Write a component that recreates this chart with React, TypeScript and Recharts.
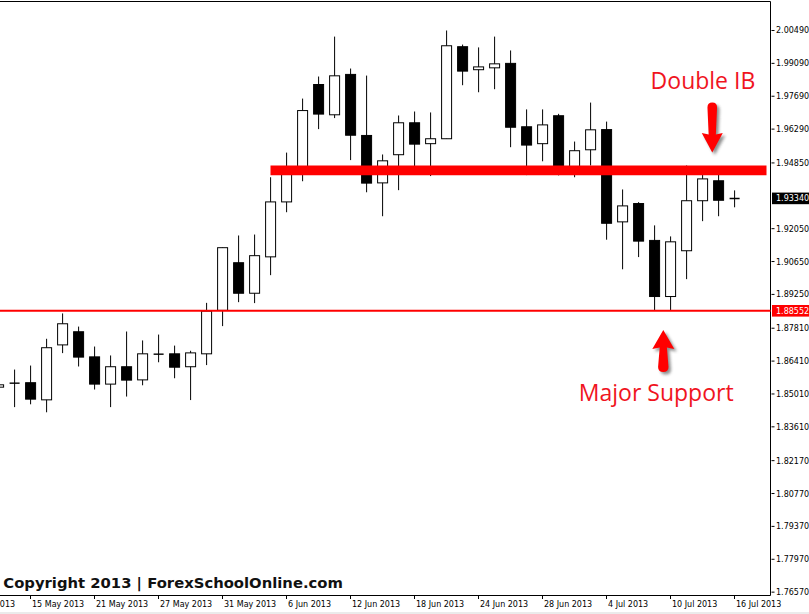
import React from "react";
import {
  ComposedChart,
  Bar,
  XAxis,
  YAxis,
  ReferenceLine,
  ReferenceArea,
  ReferenceDot,
} from "recharts";

// GBP/USD-style daily sessions (the first two sit left of the visible window)
const sessions = [
  "9 May 2013", "10 May 2013", "13 May 2013", "14 May 2013", "15 May 2013", "16 May 2013", "17 May 2013",
  "20 May 2013", "21 May 2013", "22 May 2013", "23 May 2013", "24 May 2013",
  "27 May 2013", "28 May 2013", "29 May 2013", "30 May 2013", "31 May 2013",
  "3 Jun 2013", "4 Jun 2013", "5 Jun 2013", "6 Jun 2013", "7 Jun 2013",
  "10 Jun 2013", "11 Jun 2013", "12 Jun 2013", "13 Jun 2013", "14 Jun 2013",
  "17 Jun 2013", "18 Jun 2013", "19 Jun 2013", "20 Jun 2013", "21 Jun 2013",
  "24 Jun 2013", "25 Jun 2013", "26 Jun 2013", "27 Jun 2013", "28 Jun 2013",
  "1 Jul 2013", "2 Jul 2013", "3 Jul 2013", "4 Jul 2013", "5 Jul 2013",
  "8 Jul 2013", "9 Jul 2013", "10 Jul 2013", "11 Jul 2013", "12 Jul 2013",
  "15 Jul 2013", "16 Jul 2013",
];

// OHLC, one entry per session starting 13 May 2013
const open = [
  1.8530, 1.8548, 1.8549, 1.8476, 1.8710, 1.8766, 1.8659, 1.8543, 1.8617, 1.8561,
  1.8672, 1.8672, 1.8617, 1.8672, 1.8857, 1.9060, 1.8930, 1.9085, 1.9319, 1.9439,
  1.9819, 1.9690, 1.9862, 1.9602, 1.9400, 1.9520, 1.9656, 1.9567, 1.9588, 1.9980,
  1.9882, 1.9890, 1.9909, 1.9639, 1.9567, 1.9686, 1.9441, 1.9541, 1.9627, 1.9234,
  1.9312, 1.9155, 1.8916, 1.9111, 1.9324, 1.9409, 1.9333,
];
const high = [
  1.8548, 1.8605, 1.8622, 1.8736, 1.8844, 1.8788, 1.8703, 1.8665, 1.8767, 1.8729,
  1.8754, 1.8707, 1.8685, 1.8889, 1.9125, 1.9176, 1.9180, 1.9424, 1.9529, 1.9759,
  1.9853, 2.0023, 1.9887, 1.9857, 1.9521, 1.9687, 1.9704, 1.9700, 2.0049, 1.9989,
  1.9977, 2.0023, 1.9964, 1.9713, 1.9713, 1.9694, 1.9576, 1.9742, 1.9661, 1.9372,
  1.9318, 1.9219, 1.9172, 1.9474, 1.9461, 1.9452, 1.9368,
];
const low = [
  1.8522, 1.8445, 1.8457, 1.8423, 1.8675, 1.8618, 1.8520, 1.8445, 1.8490, 1.8538,
  1.8636, 1.8568, 1.8475, 1.8624, 1.8790, 1.8892, 1.8888, 1.9007, 1.9275, 1.9407,
  1.9629, 1.9676, 1.9497, 1.9360, 1.9258, 1.9369, 1.9441, 1.9429, 1.9587, 1.9816,
  1.9786, 1.9799, 1.9552, 1.9433, 1.9492, 1.9432, 1.9424, 1.9474, 1.9158, 1.9032,
  1.9084, 1.8855, 1.8855, 1.8990, 1.9237, 1.9258, 1.9296,
];
const close = [
  1.8540, 1.8546, 1.8479, 1.8698, 1.8800, 1.8658, 1.8543, 1.8617, 1.8560, 1.8672,
  1.8669, 1.8615, 1.8676, 1.8854, 1.9124, 1.8930, 1.9090, 1.9319, 1.9436, 1.9708,
  1.9693, 1.9856, 1.9603, 1.9399, 1.9494, 1.9656, 1.9565, 1.9588, 1.9984, 1.9876,
  1.9894, 1.9907, 1.9637, 1.9561, 1.9647, 1.9440, 1.9537, 1.9626, 1.9228, 1.9302,
  1.9152, 1.8916, 1.9149, 1.9324, 1.9417, 1.9326, 1.9334,
];

// price grid labels (the one under the bid box is left out)
const priceTicks = [
  2.0049, 1.9909, 1.9769, 1.9629, 1.9485, 1.9205, 1.9065, 1.8925,
  1.8781, 1.8641, 1.8501, 1.8361, 1.8217, 1.8077, 1.7937, 1.7797, 1.7657,
];
const dateTicks = [
  "9 May 2013", "15 May 2013", "21 May 2013", "27 May 2013", "31 May 2013", "6 Jun 2013",
  "12 Jun 2013", "18 Jun 2013", "24 Jun 2013", "28 Jun 2013", "4 Jul 2013", "10 Jul 2013",
  "16 Jul 2013",
];

const lastPrice = 1.9334;
const supportLevel = 1.88552;
const resistanceZone = [1.9433, 1.9474];
const resistanceStart = "5 Jun 2013";

const FIRST_BAR = sessions.indexOf("13 May 2013");
const bars = open.map((o, j) => ({
  s: FIRST_BAR + j,
  date: sessions[FIRST_BAR + j],
  open: o,
  high: high[j],
  low: low[j],
  close: close[j],
}));
const dateTickIdx = dateTicks.map((d) => sessions.indexOf(d));

const Y_MIN = 1.76427;
const Y_MAX = 2.01725;
const X_MIN = -1.65625;
const X_MAX = sessions.length + 1.25;

const AXIS_FONT = "'DejaVu Sans', Tahoma, sans-serif";
const NOTE_FONT = "'Open Sans', 'Noto Sans', sans-serif";
const NOTE_RED = "#f0141e";

function Candle(props: any) {
  const { x, y, width, height, payload } = props;
  if (!payload || height == null) return null;
  const { open: o, high: h, low: l, close: c } = payload;
  const cx = x + width / 2;
  const k = height / (h - l);
  const yOf = (v: number) => y + (h - v) * k;
  const top = yOf(Math.max(o, c));
  const bottom = yOf(Math.min(o, c));
  const bull = c >= o;
  return (
    <g>
      <line x1={cx} x2={cx} y1={y} y2={y + height} stroke="#000" strokeWidth={1} />
      {bottom - top < 1 ? (
        <line x1={cx - 5} x2={cx + 5} y1={(top + bottom) / 2} y2={(top + bottom) / 2} stroke="#000" strokeWidth={1.4} />
      ) : (
        <rect x={cx - 5} y={top} width={10} height={bottom - top} fill={bull ? "#fff" : "#000"} stroke="#000" strokeWidth={1} />
      )}
    </g>
  );
}

function PriceTick(props: any) {
  const { x, y, payload } = props;
  const v = payload.value as number;
  const label = v.toFixed(5);
  const boxed = v === lastPrice ? "#000" : v === supportLevel ? "#ff0000" : null;
  if (boxed) {
    return (
      <g>
        <rect x={x + 1.5} y={y - 5.8} width={40} height={11.6} fill={boxed} />
        <text x={x + 5.5} y={y + 3} fill="#fff" fontSize={8} fontFamily={AXIS_FONT}>{label}</text>
      </g>
    );
  }
  return (
    <g>
      <line x1={x + 1} x2={x + 4} y1={y} y2={y} stroke="#000" strokeWidth={1} />
      <text x={x + 5.5} y={y + 3} fill="#000" fontSize={8} fontFamily={AXIS_FONT}>{label}</text>
    </g>
  );
}

function DateTick(props: any) {
  const { x, y, payload } = props;
  return (
    <g>
      <line x1={x} x2={x} y1={y} y2={y + 3.5} stroke="#000" strokeWidth={1} />
      <text x={x + 1.5} y={y + 11} fill="#000" fontSize={8} fontFamily={AXIS_FONT}>
        {sessions[payload.value]}
      </text>
    </g>
  );
}

function ShadowDefs() {
  return (
    <defs>
      <filter id="noteShadow" x="-50%" y="-50%" width="200%" height="200%">
        <feGaussianBlur stdDeviation="1.4" />
      </filter>
    </defs>
  );
}

// arrow pointing down with its tip at (cx, cy), label above it
function DownNote(props: any) {
  const { cx, cy } = props;
  const d = `M ${cx - 4.8} ${cy - 45} Q ${cx - 4.8} ${cy - 50} ${cx} ${cy - 50} Q ${cx + 4.8} ${cy - 50} ${cx + 4.8} ${cy - 45}
    L ${cx + 3.6} ${cy - 18} L ${cx + 10.5} ${cy - 19.5} L ${cx} ${cy} L ${cx - 10.5} ${cy - 19.5} L ${cx - 3.6} ${cy - 18} Z`;
  return (
    <g>
      <ShadowDefs />
      <path d={d} fill="#333" opacity={0.55} transform="translate(2.5,2.5)" filter="url(#noteShadow)" />
      <path d={d} fill="#ff0000" />
      <text x={cx - 9.3} y={cy - 63.4} textAnchor="middle" fontSize={23} fontFamily={NOTE_FONT} fill={NOTE_RED}>
        Double IB
      </text>
    </g>
  );
}

// arrow pointing up with its tip at (cx, cy), label below it
function UpNote(props: any) {
  const { cx, cy } = props;
  const d = `M ${cx} ${cy} L ${cx + 11} ${cy + 19} L ${cx + 3.6} ${cy + 17.5} L ${cx + 5.2} ${cy + 37}
    Q ${cx + 5.2} ${cy + 42} ${cx} ${cy + 42} Q ${cx - 5.2} ${cy + 42} ${cx - 5.2} ${cy + 37}
    L ${cx - 3.6} ${cy + 17.5} L ${cx - 11} ${cy + 19} Z`;
  return (
    <g>
      <path d={d} fill="#333" opacity={0.55} transform="translate(2.5,2.5)" filter="url(#noteShadow)" />
      <path d={d} fill="#ff0000" />
      <text x={cx - 7.1} y={cy + 71} textAnchor="middle" fontSize={23} fontFamily={NOTE_FONT} fill={NOTE_RED}>
        Major Support
      </text>
    </g>
  );
}

export default function App() {
  return (
    <div style={{ position: "absolute", left: 0, top: 0, width: 809, height: 614, overflow: "hidden", background: "#fff" }}>
      <div style={{ position: "absolute", left: -60, top: 0 }}>
        <ComposedChart width={869} height={614} data={bars} margin={{ top: 1.5, right: 0, bottom: 0, left: 0 }}>
          <XAxis
            dataKey="s"
            type="number"
            domain={[X_MIN, X_MAX]}
            allowDataOverflow
            ticks={dateTickIdx}
            interval={0}
            tick={(p: any) => <DateTick {...p} />}
            tickLine={false}
            tickSize={0}
            tickMargin={0}
            height={18.5}
            axisLine={{ stroke: "#000", strokeWidth: 1 }}
          />
          <YAxis
            orientation="right"
            type="number"
            domain={[Y_MIN, Y_MAX]}
            allowDataOverflow
            ticks={[...priceTicks, lastPrice, supportLevel]}
            interval={0}
            tick={(p: any) => <PriceTick {...p} />}
            tickLine={false}
            tickSize={0}
            tickMargin={0}
            width={38.5}
            axisLine={{ stroke: "#000", strokeWidth: 1 }}
          />
          <Bar
            dataKey={(d: any) => [d.low, d.high]}
            shape={(p: any) => <Candle {...p} />}
            isAnimationActive={false}
          />
          <ReferenceArea
            x1={sessions.indexOf(resistanceStart)}
            x2={sessions.length + 1}
            y1={resistanceZone[0]}
            y2={resistanceZone[1]}
            fill="#ff0000"
            fillOpacity={1}
            stroke="none"
            zIndex={1500}
          />
          <ReferenceLine y={supportLevel} stroke="#ff0000" strokeWidth={2} zIndex={1500} />
          <ReferenceLine y={Y_MAX} stroke="#000" strokeWidth={1} zIndex={1500} />
          <ReferenceDot x={46.61} y={1.9529} r={1} shape={(p: any) => <DownNote {...p} />} zIndex={1600} />
          <ReferenceDot x={43.55} y={1.8773} r={1} shape={(p: any) => <UpNote {...p} />} zIndex={1600} />
        </ComposedChart>
      </div>
      <svg width={809} height={614} style={{ position: "absolute", left: 0, top: 0, pointerEvents: "none" }}>
        <text x={3.3} y={587.7} fontSize={14.8} fontWeight="bold" fontFamily={AXIS_FONT} fill="#111">
          Copyright 2013 | ForexSchoolOnline.com
        </text>
      </svg>
      <div style={{ position: "absolute", left: 0, top: 612, width: 809, height: 2, background: "#ebebeb" }} />
    </div>
  );
}
